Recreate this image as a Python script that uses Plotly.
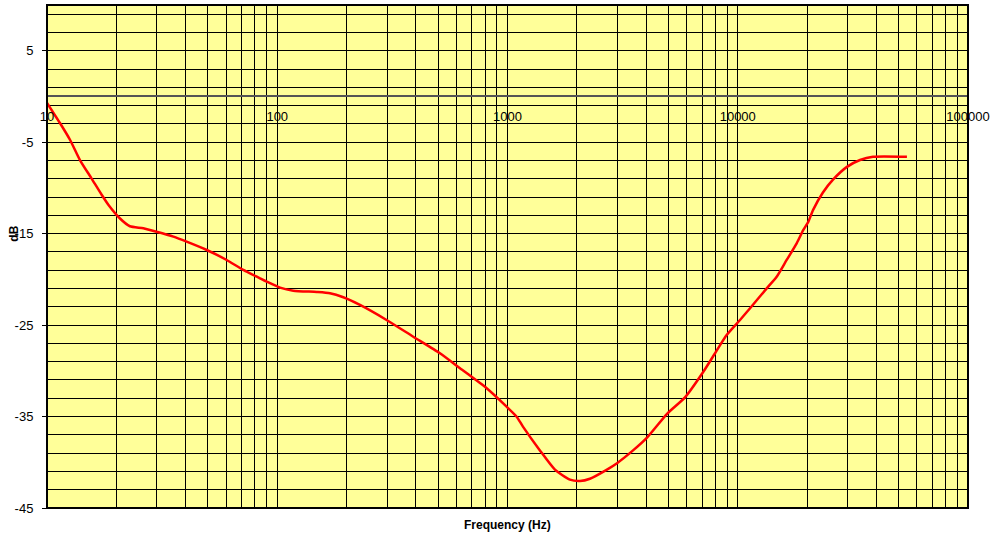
import plotly.graph_objects as go

freq_hz = [10, 11.4, 12.6, 13.9, 15.6, 17.3, 18.5, 20.7, 22.9, 26.2, 29.9, 35.4, 40.4, 49.4,
           60.3, 71.2, 84.1, 90.0, 102.8, 117.4, 148.4, 169.4, 193.6, 228.7, 298.3, 389.7,
           509, 622, 812, 991, 1096, 1167, 1383, 1607, 1867, 2065, 2281, 2704, 2990, 3510,
           4036, 4932, 5900, 7090, 7970, 8950, 10230, 11310, 13360, 14760, 16310, 18030,
           19270, 20270, 21250, 23440, 25920, 29800, 33960, 38670, 54300]
level_db = [-0.7, -2.93, -4.76, -6.95, -8.95, -10.77, -11.87, -13.32, -14.19, -14.41, -14.79,
            -15.33, -15.88, -16.79, -17.88, -18.97, -19.88, -20.25, -20.9, -21.24, -21.38,
            -21.52, -21.96, -22.8, -24.44, -26.27, -28.08, -29.72, -31.91, -33.92, -35.02,
            -36.1, -38.7, -40.8, -41.9, -42.05, -41.8, -40.8, -40.1, -38.7, -37.3, -34.7,
            -32.9, -30.1, -28.08, -26.08, -24.44, -23.16, -20.98, -19.71, -17.88, -16.06,
            -14.6, -13.69, -12.4, -10.5, -9.1, -7.7, -6.95, -6.6, -6.6]

x_tick_vals = [10, 100, 1000, 10000, 100000]
x_tick_text = ["10", "100", "1000", "10000", "100000"]
y_tick_vals = [-45, -35, -25, -15, -5, 5]
y_tick_text = ["-45", "-35", "-25", "-15", "-5", "5"]

FONT = "Liberation Sans, Arial, sans-serif"

fig = go.Figure()
fig.add_trace(go.Scatter(
    x=freq_hz, y=level_db, mode="lines",
    line=dict(color="#FF0000", width=2.5, shape="spline", smoothing=0.6),
    hoverinfo="x+y", showlegend=False,
))

y_min, y_max = -45, 10
fig.update_layout(
    width=993, height=539,
    margin=dict(l=47, r=25, t=5, b=31),
    paper_bgcolor="white",
    plot_bgcolor="#FFFF99",
    font=dict(family=FONT, size=13, color="black"),
    xaxis=dict(
        type="log", range=[1, 5], automargin=False,
        anchor="free", position=(0 - y_min) / (y_max - y_min),
        tickvals=x_tick_vals, ticktext=x_tick_text,
        ticks="outside", ticklen=8, tickcolor="rgba(0,0,0,0)",
        showline=False, zeroline=False,
        showgrid=True, gridcolor="black", gridwidth=1,
        minor=dict(dtick="D1", showgrid=True, gridcolor="black", gridwidth=1, ticks=""),
        tickfont=dict(size=13),
    ),
    yaxis=dict(
        range=[y_min, y_max], automargin=False,
        tickvals=y_tick_vals, ticktext=y_tick_text,
        ticks="outside", ticklen=4, tickcolor="black", tickwidth=1,
        ticklabelstandoff=6,
        showline=False,
        showgrid=True, gridcolor="black", gridwidth=1,
        minor=dict(tick0=-45, dtick=2, showgrid=True, gridcolor="black", gridwidth=1, ticks=""),
        zeroline=True, zerolinecolor="#555555", zerolinewidth=1.5,
        tickfont=dict(size=13),
    ),
    shapes=[dict(type="rect", xref="paper", yref="paper", x0=0, x1=1, y0=0, y1=1,
                 line=dict(color="black", width=2), layer="above")],
    annotations=[
        dict(text="<b>dB</b>", xref="paper", yref="y", x=0, y=-15, xshift=-33,
             xanchor="center", yanchor="middle",
             textangle=-90, showarrow=False, font=dict(size=12, family=FONT)),
        dict(text="<b>Frequency (Hz)</b>", xref="paper", yref="paper", x=0.5, y=0,
             yshift=-17, xanchor="center", yanchor="middle",
             showarrow=False, font=dict(size=12, family=FONT)),
    ],
)

fig.write_html("out.html", config={"displayModeBar": False},
               post_script="document.body.style.margin='0px';")
